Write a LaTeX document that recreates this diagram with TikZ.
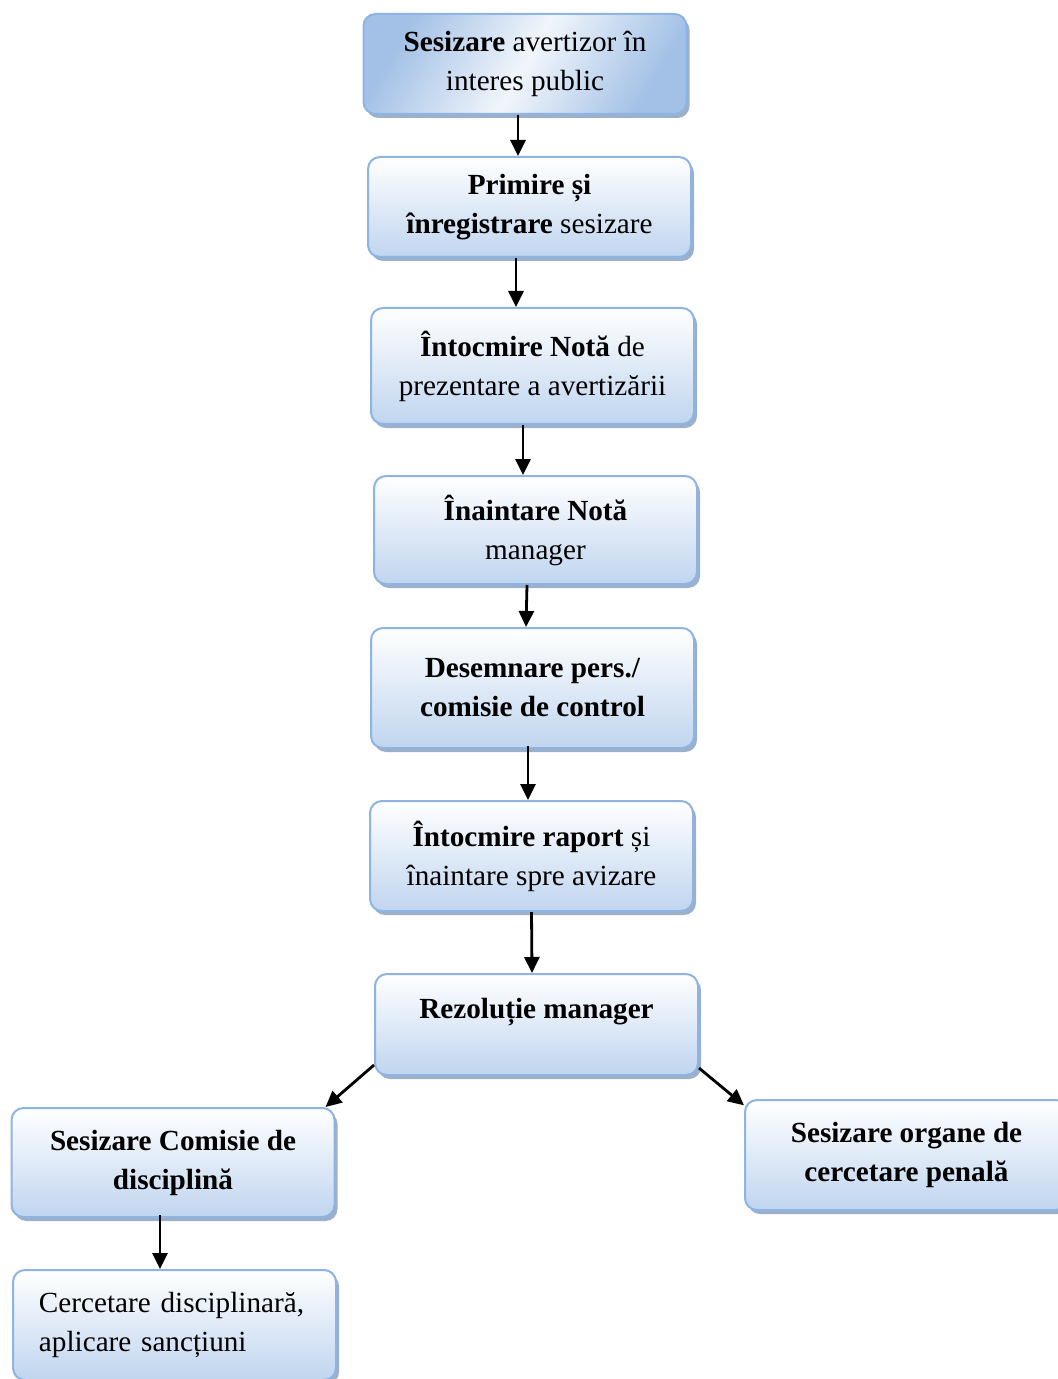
\documentclass[tikz,border=0pt]{standalone}
\usepackage{fontspec}
\setmainfont{Liberation Serif}
\usetikzlibrary{arrows.meta,shadows}
\definecolor{boxblue}{HTML}{C0D5EF}
\definecolor{boxline}{HTML}{8DB4E2}
\definecolor{boxshadow}{HTML}{9CB0C9}
\definecolor{firstblue}{HTML}{A3C1E6}

\begin{document}
\begin{tikzpicture}[x=0.5pt,y=-0.5pt,
    box/.style={draw=boxline, line width=1pt, rounded corners=6pt,
        top color=white, bottom color=boxblue,
        drop shadow={shadow xshift=1.5pt, shadow yshift=-2pt, fill=boxshadow, opacity=1},
        minimum width=161.5pt, align=center,
        font=\fontsize{14.6}{19.5}\selectfont},
    arr/.style={-{Triangle[length=8pt,width=7.5pt]}, line width=1.4pt}]
            \useasboundingbox (0,0) rectangle (1058,1379);
            \clip (0,0) rectangle (1058,1379);

            \node[box, minimum height=50pt, left color=firstblue, right color=firstblue, middle color=white!85!firstblue, shading angle=60] (A) at (525,64) {\textbf{Sesizare} avertizor în\\interes public};
            \node[box, minimum height=50pt] (B) at (529.5,207) {\textbf{Primire și}\\\textbf{înregistrare} sesizare};
            \node[box, minimum height=58pt] (C) at (532.5,366) {\textbf{Întocmire Notă} de\\prezentare a avertizării};
            \node[box, minimum height=54pt] (D) at (535.5,530) {\textbf{Înaintare Notă}\\manager};
            \node[box, minimum height=60pt] (E) at (532.5,688) {\textbf{Desemnare pers./}\\\textbf{comisie de control}};
            \node[box, minimum height=55pt] (F) at (531.5,856) {\textbf{Întocmire raport} și\\înaintare spre avizare};
            \node[box, minimum height=50.5pt] (G) at (536.5,1024.5) {\textbf{Rezoluție manager}\\[-3pt]\mbox{}};
            \node[box, minimum height=54.5pt] (H) at (173,1162.5) {\textbf{Sesizare Comisie de}\\\textbf{disciplină}};
            \node[box, minimum height=55pt] (I) at (906.5,1155) {\textbf{Sesizare organe de}\\\textbf{cercetare penală}};
            \node[box, minimum height=55pt, align=left, text width=135.5pt, inner xsep=13pt] (J) at (174.5,1325) {Cercetare disciplinară,\\aplicare sancțiuni};

            \draw[arr] ([xshift=-3.5pt]A.south) -- ([xshift=-5.75pt]B.north);
            \draw[arr] ([xshift=-6.75pt]B.south) -- ([xshift=-8.25pt]C.north);
            \draw[arr] ([xshift=-4.75pt]C.south) -- ([xshift=-6.25pt]D.north);
            \draw[arr] ([xshift=-4.25pt]D.south) -- ([xshift=-3.25pt]E.north);
            \draw[arr] ([xshift=-2.25pt,yshift=1.5pt]E.south) -- ([xshift=-1.75pt]F.north);
            \draw[arr] (F.south) -- ([xshift=-2.25pt]G.north);
            \draw[arr] (G.194) -- (H.20);
            \draw[arr] (G.-15) -- (I.163);
            \draw[arr] ([xshift=-6.5pt,yshift=1.5pt]H.south) -- ([xshift=-7.25pt]J.north);
        \end{tikzpicture}
\end{document}
